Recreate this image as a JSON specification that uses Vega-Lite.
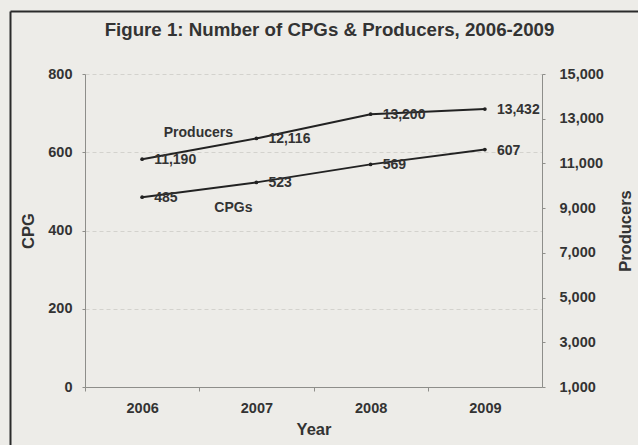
{
  "$schema": "https://vega.github.io/schema/vega-lite/v6.json",
  "width": 457,
  "height": 313,
  "autosize": {"type": "none"},
  "padding": {"left": 85, "top": 74, "right": 96, "bottom": 58},
  "background": "#edece8",
  "config": {
    "font": "Liberation Sans",
    "view": {"stroke": null},
    "axis": {
      "labelFont": "Liberation Sans",
      "labelFontWeight": "bold",
      "labelFontSize": 14.5,
      "labelColor": "#333333",
      "titleFont": "Liberation Sans",
      "titleFontWeight": "bold",
      "titleFontSize": 16.5,
      "titleColor": "#333333",
      "domainColor": "#8e8e8a",
      "tickColor": "#8e8e8a"
    }
  },
  "title": {
    "text": "Figure 1: Number of CPGs & Producers, 2006-2009",
    "fontSize": 18.7,
    "fontWeight": "bold",
    "color": "#333333",
    "anchor": "middle",
    "frame": "group",
    "baseline": "bottom",
    "dx": 16,
    "offset": -48
  },
  "data": {
    "values": [
      {"year": "2006", "cpg": 485, "producers": 11190},
      {"year": "2007", "cpg": 523, "producers": 12116},
      {"year": "2008", "cpg": 569, "producers": 13200},
      {"year": "2009", "cpg": 607, "producers": 13432}
    ]
  },
  "layer": [
    {
      "encoding": {
        "x": {
          "field": "year",
          "type": "ordinal",
          "scale": {"type": "point", "padding": 0.5},
          "axis": {
            "title": "Year",
            "titlePadding": 7,
            "labelAngle": 0,
            "labelPadding": 10,
            "tickOffset": -57,
            "labelOffset": 57,
            "tickSize": 4,
            "grid": false
          }
        },
        "y": {
          "field": "cpg",
          "type": "quantitative",
          "scale": {"domain": [0, 800]},
          "axis": {
            "orient": "left",
            "title": "CPG",
            "titlePadding": 11,
            "values": [0, 200, 400, 600, 800],
            "labelPadding": 10,
            "tickSize": 3,
            "grid": true,
            "gridColor": "#b4b4ae",
            "gridDash": [4, 3],
            "gridOpacity": 0.45
          }
        }
      },
      "layer": [
        {"mark": {"type": "line", "color": "#222222", "strokeWidth": 2}},
        {"mark": {"type": "point", "filled": true, "color": "#222222", "size": 14, "opacity": 1}},
        {
          "mark": {"type": "text", "align": "left", "baseline": "middle", "dx": 12, "dy": 1, "fontSize": 14, "fontWeight": "bold", "color": "#333333"},
          "encoding": {"text": {"field": "cpg", "type": "quantitative", "format": ","}}
        },
        {
          "transform": [{"filter": "datum.year === '2007'"}],
          "mark": {"type": "text", "text": "CPGs", "align": "center", "baseline": "middle", "dx": -23, "dy": 26, "fontSize": 14, "fontWeight": "bold", "color": "#333333"}
        }
      ]
    },
    {
      "encoding": {
        "x": {
          "field": "year",
          "type": "ordinal",
          "scale": {"type": "point", "padding": 0.5},
          "axis": null
        },
        "y": {
          "field": "producers",
          "type": "quantitative",
          "scale": {"domain": [1000, 15000]},
          "axis": {
            "orient": "right",
            "title": "Producers",
            "titleAngle": 270,
            "titlePadding": 30,
            "values": [1000, 3000, 5000, 7000, 9000, 11000, 13000, 15000],
            "labelExpr": "format(datum.value, ',')",
            "labelPadding": 14,
            "tickSize": 3,
            "grid": false
          }
        }
      },
      "layer": [
        {"mark": {"type": "line", "color": "#222222", "strokeWidth": 2}},
        {"mark": {"type": "point", "filled": true, "color": "#222222", "size": 14, "opacity": 1}},
        {
          "mark": {"type": "text", "align": "left", "baseline": "middle", "dx": 12, "dy": 1, "fontSize": 14, "fontWeight": "bold", "color": "#333333"},
          "encoding": {"text": {"field": "producers", "type": "quantitative", "format": ","}}
        },
        {
          "transform": [{"filter": "datum.year === '2007'"}],
          "mark": {"type": "text", "text": "Producers", "align": "center", "baseline": "middle", "dx": -58, "dy": -5, "fontSize": 14, "fontWeight": "bold", "color": "#333333"}
        }
      ]
    },
    {
      "mark": {"type": "point", "opacity": 0},
      "encoding": {
        "x": {
          "field": "year",
          "type": "ordinal",
          "scale": {"range": [-75, 553]},
          "axis": {"orient": "top", "offset": 63, "labels": false, "ticks": false, "title": null, "grid": false, "domainColor": "#2b2b2b", "domainWidth": 2}
        },
        "y": {
          "field": "cpg",
          "type": "quantitative",
          "scale": {"range": [371, -63]},
          "axis": {"orient": "left", "offset": 75, "labels": false, "ticks": false, "title": null, "grid": false, "domainColor": "#2b2b2b", "domainWidth": 2}
        }
      }
    }
  ],
  "resolve": {"scale": {"x": "independent", "y": "independent"}}
}
